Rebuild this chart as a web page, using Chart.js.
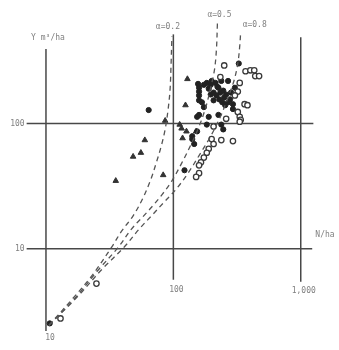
<!DOCTYPE html>
<html>
<head>
<meta charset="utf-8">
<script src="https://cdn.jsdelivr.net/npm/chart.js@4.4.1/dist/chart.umd.min.js"></script>
<style>
  html, body { margin: 0; padding: 0; background: #fff; }
  #wrap { width: 339px; height: 350px; position: relative; }
</style>
</head>
<body>
<div id="wrap"><canvas id="c"></canvas></div>
<script>
// ---- data (N/ha, Y m3/ha) ----
const triN = [35.3, 48.3, 55.6, 59.7, 83.2, 86.2, 128.9, 124.5, 116.0, 118.1, 126.7, 150.9, 112.1];
const triY = [34.9, 54.5, 58.5, 73.8, 38.8, 105.5, 227.3, 140.4, 91.5, 76.5, 86.7, 86.7, 98.2];

const filledN = [64.0, 156.3, 159.1, 159.1, 159.1, 159.1, 183.0, 196.3, 214.2, 237.9, 268.9, 326.2,
  225.8, 246.4, 259.7, 278.6, 293.5, 233.8, 250.7, 268.9, 304.1, 283.5, 196.3, 206.9, 293.5,
  225.8, 189.5, 153.6, 159.1, 237.9, 246.4, 140.7, 153.6, 183.0, 122.3, 10.7, 140.7, 145.7, 173.6, 167.6,
  173.6, 189.5, 206.9, 217.9, 229.7, 242.1, 255.2, 221.8, 199.7];
const filledY = [128.4, 207.8, 193.6, 180.3, 167.9, 153.5, 211.6, 204.2, 211.6, 219.3, 219.3, 302.4,
  193.6, 183.5, 170.9, 156.2, 142.9, 177.0, 162.0, 148.1, 193.6, 177.0, 170.9, 153.5, 130.7,
  117.4, 113.3, 113.3, 117.4, 98.2, 89.9, 79.3, 86.7, 98.2, 42.4, 2.53, 75.2, 68.7, 135.5, 148.1,
  204.2, 190.1, 177.0, 167.9, 156.2, 148.1, 140.4, 197.0, 219.3];

const openN = [250.7, 368.6, 402.4, 431.5, 439.2, 471.0, 233.8, 331.9, 320.5, 304.1, 362.2, 381.7,
  320.5, 331.9, 337.8, 331.9, 259.7, 206.9, 199.7, 237.9, 293.5, 206.9, 189.5, 183.0, 173.6,
  164.7, 159.1, 159.1, 150.9, 24.9, 13.0];
const openY = [291.8, 262.2, 266.9, 266.9, 239.8, 239.8, 235.6, 211.6, 180.3, 167.9, 142.9, 140.4,
  123.9, 113.3, 107.4, 103.6, 109.3, 94.8, 75.2, 73.8, 72.5, 68.7, 62.9, 58.5, 53.5,
  49.0, 46.4, 40.2, 37.5, 5.26, 2.77];

// dashed reference curves
const a02N = [10.54, 16.3, 23.2, 32.9, 39.2, 48.3, 57.6, 66.3, 73.6, 80.4, 86.2, 90.8, 94.1, 95.7, 97.4];
const a02Y = [2.44, 4.02, 6.18, 10.36, 13.8, 18.3, 25.3, 35.5, 49.0, 66.3, 89.9, 128.4, 183.5, 276.6, 498.5];
const a05N = [10.54, 16.9, 25.3, 37.2, 46.7, 57.6, 68.6, 81.8, 97.4, 116.0, 138.2, 159.1, 179.8, 196.3, 210.5, 217.9, 221.8];
const a05Y = [2.44, 4.02, 6.63, 10.36, 14.3, 18.0, 21.9, 27.2, 34.9, 48.1, 68.7, 94.8, 135.5, 193.6, 271.7, 395.3, 640];
const a08N = [10.54, 17.8, 27.6, 41.3, 53.7, 68.6, 84.7, 104.5, 128.9, 159.1, 196.3, 233.8, 268.9, 298.8, 320.5, 331.9, 337.8];
const a08Y = [2.44, 4.17, 6.87, 10.36, 14.3, 18.7, 23.6, 29.7, 39.5, 55.5, 79.3, 113.3, 162.0, 219.3, 302.4, 417.2, 545.0];

const curveLabels = ["α=0.2", "α=0.5", "α=0.8"];
const xTickValues = [10, 100, 1000];
const xTickLabels = ["10", "100", "1,000"];
const yTickValues = [10, 100];
const yTickLabels = ["10", "100"];
const yTitle = "Y m³/ha";
const xTitle = "N/ha";

const pts = (xs, ys) => xs.map((x, i) => ({ x: x, y: ys[i] }));

const ink = '#3a3a3a';
const textCol = '#808080';

const guidePlugin = {
  id: 'guides',
  beforeDatasetsDraw(chart) {
    const { ctx, scales: { x, y } } = chart;
    ctx.save();
    ctx.strokeStyle = '#484848';
    ctx.lineWidth = 1.5;
    const hLines = [[100, 7.05, 1256], [10, 7.05, 1230]];
    hLines.forEach(([v, a, b]) => {
      const py = y.getPixelForValue(v);
      ctx.beginPath();
      ctx.moveTo(x.getPixelForValue(a), py);
      ctx.lineTo(x.getPixelForValue(b), py);
      ctx.stroke();
    });
    const vLines = [[10, 395, 2.2], [100, 517, 5.65], [1000, 490, 5.45]];
    vLines.forEach(([v, a, b]) => {
      const px = x.getPixelForValue(v);
      ctx.beginPath();
      ctx.moveTo(px, y.getPixelForValue(a));
      ctx.lineTo(px, y.getPixelForValue(b));
      ctx.stroke();
    });
    ctx.restore();
  },
  afterDatasetsDraw(chart) {
    const { ctx, scales: { x, y } } = chart;
    ctx.save();
    ctx.fillStyle = textCol;
    ctx.font = '8px "DejaVu Sans Mono", monospace';
    ctx.textBaseline = 'middle';
    ctx.textAlign = 'right';
    yTickValues.forEach((v, i) => {
      ctx.fillText(yTickLabels[i], x.getPixelForValue(7.05) - 2, y.getPixelForValue(v));
    });
    ctx.textAlign = 'center';
    ctx.fillText(xTickLabels[0], x.getPixelForValue(xTickValues[0]) + 4, y.getPixelForValue(2.2) + 7);
    ctx.fillText(xTickLabels[1], x.getPixelForValue(xTickValues[1]) + 3, y.getPixelForValue(5.65) + 10);
    ctx.fillText(xTickLabels[2], x.getPixelForValue(xTickValues[2]) + 3, y.getPixelForValue(5.45) + 9);
    ctx.fillText(yTitle, x.getPixelForValue(10) + 2, y.getPixelForValue(395) - 11);
    ctx.textAlign = 'left';
    ctx.fillText(xTitle, x.getPixelForValue(1256) + 2, y.getPixelForValue(10) - 14);
    ctx.textAlign = 'center';
    const tops = [[a02N, a02Y, -4, -9], [a05N, a05Y, 2, -8], [a08N, a08Y, 14, -7]];
    tops.forEach(([ns, ys, dx, dy], i) => {
      const n = ns[ns.length - 1], v = ys[ys.length - 1];
      ctx.fillText(curveLabels[i], x.getPixelForValue(n) + dx, y.getPixelForValue(v) + dy);
    });
    ctx.restore();
  }
};

const curveStyle = {
  type: 'line',
  showLine: true,
  borderColor: '#555',
  borderWidth: 1.3,
  borderDash: [5, 4],
  pointRadius: 0,
  tension: 0.35,
  fill: false
};

new Chart(document.getElementById('c'), {
  type: 'scatter',
  data: {
    datasets: [
      Object.assign({ label: curveLabels[0], data: pts(a02N, a02Y) }, curveStyle),
      Object.assign({ label: curveLabels[1], data: pts(a05N, a05Y) }, curveStyle),
      Object.assign({ label: curveLabels[2], data: pts(a08N, a08Y) }, curveStyle),
      { label: 'open', data: pts(openN, openY), pointStyle: 'circle', pointRadius: 2.7,
        backgroundColor: '#fff', borderColor: ink, borderWidth: 1.3 },
      { label: 'filled', data: pts(filledN, filledY), pointStyle: 'circle', pointRadius: 2.6,
        backgroundColor: '#222', borderColor: '#222', borderWidth: 1 },
      { label: 'triangle', data: pts(triN, triY), pointStyle: 'triangle', pointRadius: 3.2,
        backgroundColor: '#333', borderColor: '#333', borderWidth: 1 }
    ]
  },
  options: {
    responsive: true,
    maintainAspectRatio: false,
    animation: false,
    layout: { padding: 0 },
    plugins: { legend: { display: false }, tooltip: { enabled: false } },
    scales: {
      x: { type: 'logarithmic', min: 4.794, max: 1814, display: false, bounds: 'data' },
      y: { type: 'logarithmic', min: 1.709, max: 882.6, display: false, bounds: 'data' }
    }
  },
  plugins: [guidePlugin]
});
</script>
</body>
</html>
